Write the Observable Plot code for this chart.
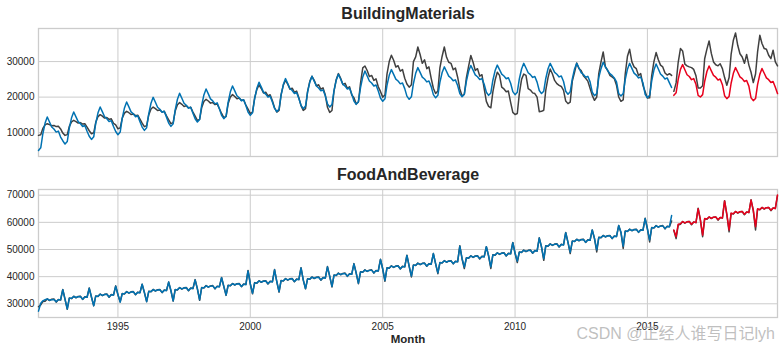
<!DOCTYPE html>
<html>
<head>
<meta charset="utf-8">
<script src="https://cdn.jsdelivr.net/npm/d3@7"></script>
<script src="https://cdn.jsdelivr.net/npm/@observablehq/plot@0.6"></script>
<style>
  html, body { margin: 0; padding: 0; background: #fff; }
  body { width: 782px; height: 350px; position: relative; overflow: hidden; font-family: "Liberation Sans", Arial, sans-serif; }
  #p1 { position: absolute; left: 0; top: 0; }
  #p2 { position: absolute; left: 0; top: 170px; }
</style>
</head>
<body>
<div id="p1"></div>
<div id="p2"></div>
<script>
// ---------------- data (monthly, 1992-01 .. 2019-12) ----------------
const titles = ["BuildingMaterials", "FoodAndBeverage"];
const xLabel = "Month";
const watermark = "CSDN @正经人谁写日记lyh";
const xTickYears = [1995, 2000, 2005, 2010, 2015];
const bmYTicks = [10000, 20000, 30000];
const fbYTicks = [30000, 40000, 50000, 60000, 70000];

// BuildingMaterials: actual (dark)
const bmActual = [
  9240, 9400, 11210, 12200, 12530, 12270, 11940, 12040, 11710, 11810, 11050, 9900,
  9240, 9450, 11770, 13040, 13460, 13120, 12700, 12830, 12410, 12530, 11560, 10540,
  9700, 9970, 12920, 14530, 15070, 14640, 14100, 14260, 13730, 13890, 12650, 12170,
  11100, 11350, 14040, 15510, 16000, 15610, 15120, 15270, 14780, 14920, 13800, 12680,
  11700, 11980, 15010, 16660, 17210, 16770, 16220, 16380, 15830, 16000, 14730, 13630,
  12530, 12830, 16080, 17860, 18450, 17980, 17380, 17560, 16970, 17150, 15790, 14640,
  13460, 13760, 17010, 18790, 19380, 18910, 18310, 18490, 17900, 18080, 16720, 15400,
  14220, 14540, 18110, 20050, 20700, 20180, 19530, 19730, 19080, 19270, 17780, 16650,
  15350, 15750, 19780, 22190, 23400, 22430, 21150, 21390, 20340, 20660, 18970, 17010,
  15800, 16250, 20710, 23390, 24730, 23660, 22230, 22500, 21340, 21690, 19820, 17620,
  16280, 16760, 21550, 24420, 25860, 24710, 23180, 23470, 22220, 22600, 20590, 17140,
  15700, 16250, 21710, 24980, 26620, 25310, 23560, 23890, 22470, 22910, 20610, 19810,
  18100, 18630, 23960, 28230, 28760, 27480, 25780, 26100, 24710, 25140, 22900, 21600,
  20000, 20590, 26470, 30000, 31770, 30360, 28470, 28830, 27300, 27770, 25300, 23700,
  22800, 23500, 30000, 31300, 34100, 32000, 29500, 30500, 28000, 28500, 25300, 22500,
  21000, 21700, 28200, 31500, 34100, 31200, 29800, 29500, 27700, 28200, 25600, 22300,
  20300, 20800, 25500, 28800, 31700, 29800, 27500, 28000, 25900, 26300, 22400, 18800,
  17400, 17000, 21500, 24800, 27000, 26100, 22800, 22300, 21500, 21700, 18500, 15700,
  15100, 15400, 21000, 25000, 26500, 26100, 22400, 22000, 21200, 21000, 20000, 15900,
  16000, 16300, 22000, 25500, 27900, 26500, 24700, 23800, 23300, 23000, 21900, 18900,
  18170, 18600, 24500, 27000, 29600, 28000, 27500, 26000, 25300, 24500, 22500, 20500,
  19100, 20030, 26620, 29900, 32700, 28480, 27550, 26140, 25660, 25200, 23320, 20030,
  18820, 19200, 26500, 31500, 33460, 29900, 28500, 28000, 26100, 26600, 23300, 21500,
  19750, 19800, 26000, 30000, 32530, 30500, 29000, 28500, 26800, 26200, 26600, 26100,
  21630, 24000, 29800, 33650, 33000, 29300, 28800, 28500, 28300, 27800, 26000, 22600,
  22570, 23200, 30800, 33500, 35800, 32300, 29900, 29100, 28800, 29400, 28000, 25500,
  23320, 25500, 32000, 36000, 38060, 34500, 32200, 31300, 29500, 32000, 29000, 27000,
  24080, 26500, 32700, 37400, 35070, 33650, 33460, 31770, 30830, 33180, 29900, 28770
];
// BuildingMaterials: fitted 1992-2015 (blue)
const bmFit = [
  5000, 5750, 9700, 12710, 14400, 12990, 11580, 11020, 10170, 10450, 8760, 7740,
  6800, 7520, 11300, 14180, 15800, 14450, 13100, 12560, 11750, 12020, 10400, 9000,
  8100, 8830, 12660, 15580, 17220, 15850, 14480, 13940, 13120, 13390, 11750, 10340,
  9430, 10170, 14030, 16970, 18620, 17240, 15860, 15310, 14480, 14760, 13110, 11570,
  10650, 11390, 15300, 18270, 19940, 18550, 17150, 16600, 15760, 16040, 14370, 12700,
  11770, 12510, 16420, 19400, 21070, 19680, 18280, 17720, 16890, 17160, 15490, 13920,
  12990, 13730, 17640, 20620, 22290, 20900, 19500, 18940, 18110, 18380, 16710, 14870,
  13940, 14680, 18540, 21480, 23130, 21750, 20370, 19820, 18990, 19270, 17620, 15790,
  14870, 15620, 19540, 22520, 24200, 22800, 21400, 20840, 20000, 20280, 18600, 16830,
  15900, 16640, 20560, 23530, 25210, 23810, 22420, 21860, 21020, 21300, 19620, 17690,
  16760, 17490, 21310, 24220, 25860, 24500, 23130, 22580, 21770, 22040, 20400, 18120,
  17210, 17950, 21820, 24760, 26420, 25040, 23660, 23100, 22280, 22550, 20890, 18890,
  17970, 18720, 22670, 25670, 27360, 25950, 24540, 23980, 23130, 23420, 21730, 19760,
  18820, 19530, 23280, 26130, 27740, 26400, 25060, 24530, 23730, 23990, 22390, 20270,
  19380, 20090, 23840, 26690, 28300, 26960, 25620, 25090, 24290, 24550, 22950, 20690,
  19800, 20500, 24150, 26930, 28500, 27200, 25890, 25370, 24590, 24850, 23280, 20970,
  20100, 20800, 24500, 27320, 28900, 27580, 26260, 25730, 24940, 25200, 23620, 21380,
  20500, 21180, 24750, 27470, 29000, 27730, 26450, 25940, 25180, 25430, 23900, 21550,
  20700, 21400, 25100, 27920, 29500, 28180, 26860, 26330, 25540, 25800, 24220, 21880,
  21000, 21680, 25250, 27970, 29500, 28230, 26950, 26440, 25680, 25930, 24400, 21650,
  20800, 21500, 25150, 27930, 29500, 28200, 26890, 26370, 25590, 25850, 24280, 21370,
  20400, 21000, 25500, 28000, 29800, 28500, 27500, 26600, 26100, 25400, 24300, 21000,
  20320, 21000, 24900, 27850, 29500, 28100, 26750, 26200, 25400, 25650, 24000, 20800,
  19800, 20500, 24500, 27600, 29300, 27900, 26500, 25900, 25100, 25400, 24000, 22700
];
// BuildingMaterials: forecast 2016-2019 (red)
const bmPred = [
  20500, 21200, 25000, 27800, 29150, 27700, 26300, 25800, 24900, 25200, 23600, 20500,
  20030, 20700, 24400, 27200, 28760, 27400, 26100, 25600, 24800, 25100, 23500, 20400,
  19570, 20200, 23900, 26700, 28300, 27000, 25700, 25200, 24400, 24700, 23100, 19800,
  19010, 19600, 23500, 26400, 28030, 26700, 25400, 24900, 24100, 24400, 22800, 21000
];

// FoodAndBeverage: actual (dark)
const fbActual = [
  28900, 29600, 30800, 30900, 31800, 31200, 31700, 31800, 30600, 31600, 31400, 35300,
  31600, 28000, 32100, 31900, 32800, 32200, 32700, 32800, 31600, 32600, 32400, 35800,
  32400, 29300, 32900, 32700, 33600, 33000, 33500, 33600, 32400, 33400, 33200, 36600,
  33300, 30700, 33800, 33600, 34500, 33900, 34400, 34500, 33300, 34300, 34100, 37200,
  34100, 30800, 34600, 34400, 35300, 34700, 35200, 35300, 34100, 35100, 34900, 38000,
  34800, 31000, 35300, 35100, 36000, 35400, 35900, 36000, 34800, 35800, 35600, 38900,
  35500, 31300, 36000, 35800, 36700, 36100, 36600, 36700, 35500, 36500, 36300, 39700,
  36300, 33100, 36800, 36600, 37500, 36900, 37400, 37500, 36300, 37300, 37100, 42300,
  37300, 33700, 37800, 37600, 38500, 37900, 38400, 38500, 37300, 38300, 38100, 42600,
  38100, 34300, 38600, 38400, 39300, 38700, 39200, 39300, 38100, 39100, 38900, 43300,
  38700, 35500, 39200, 39000, 39900, 39300, 39800, 39900, 38700, 39700, 39500, 43700,
  40100, 36200, 40600, 40400, 41300, 40700, 41200, 41300, 40100, 41100, 40900, 44800,
  41300, 37400, 41800, 41600, 42500, 41900, 42400, 42500, 41300, 42300, 42100, 46400,
  42800, 38300, 43300, 43100, 44000, 43400, 43900, 44000, 42800, 43800, 43600, 47900,
  43800, 39900, 44300, 44100, 45000, 44400, 44900, 45000, 43800, 44800, 44600, 48500,
  44700, 41100, 45200, 45000, 45900, 45300, 45800, 45900, 44700, 45700, 45500, 51400,
  46500, 43000, 47000, 46800, 47700, 47100, 47600, 47700, 46500, 47500, 47300, 51000,
  47600, 43000, 48100, 47900, 48800, 48200, 48700, 48800, 47600, 48600, 48400, 52600,
  48600, 45200, 49100, 48900, 49800, 49200, 49700, 49800, 48600, 49600, 49400, 54300,
  50900, 46000, 51400, 51200, 52100, 51500, 52000, 52100, 50900, 51900, 51700, 56300,
  52600, 48500, 53100, 52900, 53800, 53200, 53700, 53800, 52600, 53600, 53400, 57200,
  54000, 49100, 54500, 54300, 55200, 54600, 55100, 55200, 54000, 55000, 54800, 58800,
  56300, 50400, 56800, 56600, 57500, 56900, 57400, 57500, 56300, 57300, 57100, 61500,
  57600, 52800, 58100, 57900, 58800, 58200, 58700, 58800, 57600, 58600, 58400, 60500,
  57000, 54000, 59000, 59300, 60300, 59700, 60200, 60300, 59100, 60100, 59900, 65200,
  60800, 54700, 61300, 61100, 62000, 61400, 61900, 62000, 60800, 61800, 61600, 68000,
  62800, 56500, 63300, 63100, 64000, 63400, 63900, 64000, 62800, 63800, 63600, 68300,
  64300, 57200, 64800, 64600, 65500, 64900, 65400, 65500, 64300, 65300, 65100, 69800
];
// FoodAndBeverage: fitted 1992-2015 (blue)
const fbFit = [
  27300, 30200, 31100, 31500, 31800, 31300, 31500, 31600, 30800, 31500, 31500, 35200,
  31700, 28100, 32000, 32000, 32700, 32300, 32600, 32700, 31700, 32500, 32400, 35700,
  32500, 29300, 32800, 32800, 33500, 33100, 33400, 33500, 32500, 33300, 33200, 36500,
  33400, 30600, 33700, 33700, 34400, 34000, 34300, 34400, 33400, 34200, 34100, 37200,
  34200, 30800, 34500, 34500, 35200, 34800, 35100, 35200, 34200, 35000, 34900, 38000,
  34900, 31100, 35200, 35200, 35900, 35500, 35800, 35900, 34900, 35700, 35600, 38800,
  35600, 31500, 35900, 35900, 36600, 36200, 36500, 36600, 35600, 36400, 36300, 39600,
  36400, 33200, 36700, 36700, 37400, 37000, 37300, 37400, 36400, 37200, 37100, 42100,
  37400, 33900, 37700, 37700, 38400, 38000, 38300, 38400, 37400, 38200, 38100, 42500,
  38200, 34500, 38500, 38500, 39200, 38800, 39100, 39200, 38200, 39000, 38900, 43200,
  38800, 35600, 39100, 39100, 39800, 39400, 39700, 39800, 38800, 39600, 39500, 43600,
  40200, 36400, 40500, 40500, 41200, 40800, 41100, 41200, 40200, 41000, 40900, 44700,
  41400, 37600, 41700, 41700, 42400, 42000, 42300, 42400, 41400, 42200, 42100, 46300,
  42900, 38600, 43200, 43200, 43900, 43500, 43800, 43900, 42900, 43700, 43600, 47800,
  43900, 40200, 44200, 44200, 44900, 44500, 44800, 44900, 43900, 44700, 44600, 48500,
  44800, 41400, 45100, 45100, 45800, 45400, 45700, 45800, 44800, 45600, 45500, 51200,
  46700, 43500, 46900, 46900, 47600, 47200, 47500, 47600, 46700, 47400, 47300, 51000,
  47700, 43600, 48000, 48000, 48700, 48300, 48600, 48700, 47700, 48500, 48400, 52500,
  48700, 45700, 49000, 49000, 49700, 49300, 49600, 49700, 48700, 49500, 49400, 54200,
  51000, 46600, 51300, 51300, 52000, 51600, 51900, 52000, 51000, 51800, 51700, 56200,
  52700, 49000, 53000, 53000, 53700, 53300, 53600, 53700, 52700, 53500, 53400, 57200,
  54100, 49900, 54400, 54400, 55100, 54700, 55000, 55100, 54100, 54900, 54800, 58800,
  56400, 51200, 56700, 56700, 57400, 57000, 57300, 57400, 56400, 57200, 57100, 61400,
  57700, 53500, 58000, 58000, 58700, 58300, 58600, 58700, 57700, 58500, 58400, 62500
];
// FoodAndBeverage: forecast 2016-2019 (red)
const fbPred = [
  57200, 54700, 59300, 59500, 60300, 59800, 60200, 60300, 59300, 60100, 59900, 65000,
  61000, 55300, 61400, 61200, 62000, 61500, 61900, 62000, 61000, 61800, 61600, 67900,
  63000, 57200, 63400, 63200, 64000, 63500, 63900, 64000, 63000, 63800, 63600, 68200,
  64500, 58400, 65000, 64700, 65500, 65000, 65400, 65500, 64500, 65300, 65100, 70100
];

// ---------------- styles ----------------
const colors = { actual: "#404040", fit: "#0072b2", pred: "#e8001c", grid: "#cccccc", text: "#262626", mark: "#b4b4b4" };

// ---------------- build ----------------
const months = d3.utcMonth.range(new Date(Date.UTC(1992, 0, 1)), new Date(Date.UTC(2020, 0, 1)));
const split = bmFit.length; // 288 -> 2016-01
const xTicks = xTickYears.map(y => new Date(Date.UTC(y, 0, 1)));
const rows = (vals, offset) => vals.map((v, i) => ({ date: months[i + offset], value: v }));

function panel({ actual, fit, pred, title, yTicks, yDomain, height, marginTop, marginBottom, bottom }) {
  const lineOpts = (stroke) => ({ x: "date", y: "value", stroke, strokeWidth: 1.5 });
  const marks = [
    Plot.gridX(xTicks, { stroke: colors.grid, strokeOpacity: 1, strokeWidth: 1 }),
    Plot.gridY(yTicks, { stroke: colors.grid, strokeOpacity: 1, strokeWidth: 1 }),
    Plot.frame({ stroke: colors.grid, strokeWidth: 1.3 }),
    Plot.axisY(yTicks, { tickSize: 0, tickPadding: 4, tickFormat: d => String(d), label: null, fontSize: 10, fill: colors.text }),
    Plot.line(rows(actual.slice(0, split), 0), lineOpts(colors.actual)),
    Plot.line(rows(actual.slice(split), split), lineOpts(colors.actual)),
    Plot.line(rows(fit, 0), lineOpts(colors.fit)),
    Plot.line(rows(pred, split), lineOpts(colors.pred)),
    Plot.text([title], { text: d => d, frameAnchor: "top", lineAnchor: "bottom", dy: -10, fontSize: 16, fontWeight: "bold", fill: colors.text })
  ];
  if (bottom) {
    marks.push(
      Plot.axisX(xTicks, { tickSize: 0, tickPadding: 5, tickFormat: d3.utcFormat("%Y"), label: null, fontSize: 10, fill: colors.text }),
      Plot.text([xLabel], { text: d => d, frameAnchor: "bottom", lineAnchor: "bottom", dy: 25, fontSize: 11.5, fontWeight: "bold", fill: colors.text }),
      Plot.text([watermark], { text: d => d, frameAnchor: "bottom-left", textAnchor: "start", lineAnchor: "bottom", dx: 538, dy: 21, fontSize: 16, fill: colors.mark, fillOpacity: 0.85, fontFamily: "'Liberation Sans', 'Noto Sans CJK SC', sans-serif" })
    );
  }
  return Plot.plot({
    width: 782,
    height,
    marginLeft: 38,
    marginRight: 5,
    marginTop,
    marginBottom,
    style: { fontFamily: "'Liberation Sans', Arial, sans-serif", fontSize: "10px", color: colors.text, background: "transparent", overflow: "visible" },
    x: { type: "utc", domain: [months[0], months[months.length - 1]], axis: bottom ? undefined : null, label: null },
    y: { domain: yDomain, label: null },
    marks
  });
}

document.getElementById("p1").appendChild(panel({
  actual: bmActual, fit: bmFit, pred: bmPred, title: titles[0],
  yTicks: bmYTicks, yDomain: [3300, 39300],
  height: 160, marginTop: 28, marginBottom: 4, bottom: false
}));
document.getElementById("p2").appendChild(panel({
  actual: fbActual, fit: fbFit, pred: fbPred, title: titles[1],
  yTicks: fbYTicks, yDomain: [24950, 72100],
  height: 180, marginTop: 19, marginBottom: 33, bottom: true
}));
</script>
</body>
</html>
